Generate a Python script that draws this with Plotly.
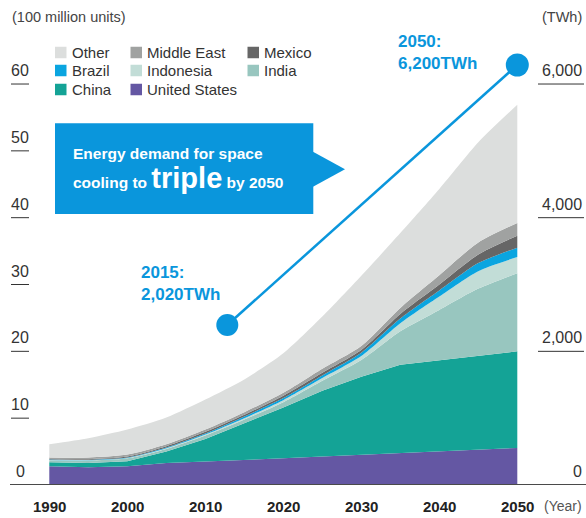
import plotly.graph_objects as go

# ---------------- data (100 million units) ----------------
years = [1990, 1995, 2000, 2005, 2010, 2015, 2020, 2025, 2030, 2035, 2040, 2045, 2050]
united_states = [2.8, 2.65, 2.8, 3.3, 3.5, 3.7, 4.0, 4.25, 4.5, 4.8, 5.05, 5.3, 5.55]
china = [0.6, 0.65, 0.75, 1.7, 3.4, 5.5, 7.6, 9.85, 11.7, 13.2, 13.65, 14.0, 14.45]
india = [0.3, 0.35, 0.45, 0.4, 0.5, 0.6, 0.8, 1.5, 2.5, 5.0, 7.5, 10.1, 11.7]
indonesia = [0.05, 0.05, 0.05, 0.1, 0.15, 0.2, 0.3, 0.4, 0.6, 1.2, 2.0, 2.6, 2.4]
brazil = [0.05, 0.05, 0.05, 0.1, 0.15, 0.25, 0.3, 0.4, 0.5, 0.7, 0.9, 1.2, 1.4]
mexico = [0.1, 0.1, 0.15, 0.2, 0.25, 0.25, 0.35, 0.4, 0.4, 0.7, 0.9, 1.3, 1.8]
middle_east = [0.2, 0.25, 0.3, 0.3, 0.35, 0.4, 0.45, 0.6, 0.6, 0.9, 1.4, 1.8, 1.9]
other = [2.0, 2.9, 3.75, 4.0, 4.5, 4.9, 5.9, 7.8, 10.5, 11.2, 12.9, 15.0, 17.7]

x_ticks = [1990, 2000, 2010, 2020, 2030, 2040, 2050]
left_ticks = [0, 10, 20, 30, 40, 50, 60]
right_ticks = [0, 2000, 4000, 6000]          # TWh
TWH_PER_UNIT = 100                           # 6,000 TWh aligns with 60

series = [
    ("United States", united_states, "#6457a3", "linear"),
    ("China", china, "#14a396", "linear"),
    ("India", india, "#98c6bf", "spline"),
    ("Indonesia", indonesia, "#c2ddd7", "spline"),
    ("Brazil", brazil, "#0aa5e0", "spline"),
    ("Mexico", mexico, "#666666", "spline"),
    ("Middle East", middle_east, "#a0a2a1", "spline"),
    ("Other", other, "#dcdedd", "spline"),
]
legend_layout = [  # (name, column, row)
    ("Other", 0, 0), ("Middle East", 1, 0), ("Mexico", 2, 0),
    ("Brazil", 0, 1), ("Indonesia", 1, 1), ("India", 2, 1),
    ("China", 0, 2), ("United States", 1, 2),
]
colors = {s[0]: s[2] for s in series}

# ---------------- geometry ----------------
W, H = 586, 518
PL, PT, PW, PH = 10, 0, 576, 485
PX_PER_YEAR = 7.8
PX_PER_UNIT = 6.683
x0_year = 1990 - (49.3 - PL) / PX_PER_YEAR
x1_year = x0_year + PW / PX_PER_YEAR
y_top = PH / PX_PER_UNIT


def px(xp):
    return (xp - PL) / PW


def py(yp):
    return (PT + PH - yp) / PH


BLUE = "#0a96dc"
FONT = "Liberation Sans, Arial, sans-serif"
BOLD = "Liberation Sans, Arial, sans-serif"

fig = go.Figure()
for name, vals, col, shape in series:
    fig.add_trace(go.Scatter(
        x=years, y=vals, name=name, stackgroup="one", mode="lines",
        line=dict(width=0, color=col, shape=shape, smoothing=0.7),
        fillcolor=col, showlegend=False, hoverinfo="skip"))

shapes = []
ann = []

# axis baseline
shapes.append(dict(type="line", xref="paper", yref="y", x0=0, x1=1, y0=0, y1=0,
                   line=dict(color="#4a4a4a", width=2)))

# left ticks
for v in left_ticks:
    ann.append(dict(xref="paper", yref="y", x=px(20), y=v, text=str(v),
                    showarrow=False, xanchor="center", yanchor="bottom", yshift=3,
                    font=dict(family=FONT, size=16, color="#333")))
    if v != 0:
        shapes.append(dict(type="line", xref="paper", yref="y", x0=px(11), x1=px(29),
                           y0=v, y1=v, line=dict(color="#333", width=1)))
# right ticks
for t in right_ticks:
    v = t / TWH_PER_UNIT
    ann.append(dict(xref="paper", yref="y", x=px(584), y=v, text=f"{t:,}",
                    showarrow=False, xanchor="right", yanchor="bottom", yshift=3,
                    font=dict(family=FONT, size=16, color="#333")))
    if t != 0:
        shapes.append(dict(type="line", xref="paper", yref="y", x0=px(538), x1=px(584),
                           y0=v, y1=v, line=dict(color="#333", width=1)))

# x labels
for yr in x_ticks:
    ann.append(dict(xref="x", yref="paper", x=yr, y=py(506), text=f"<b>{yr}</b>",
                    showarrow=False, xanchor="center", yanchor="middle",
                    font=dict(family=BOLD, size=15, color="#222")))
ann.append(dict(xref="paper", yref="paper", x=px(563), y=py(506), text="(Year)",
                showarrow=False, xanchor="center", yanchor="middle",
                font=dict(family=FONT, size=14, color="#555")))

# unit titles
ann.append(dict(xref="paper", yref="paper", x=px(10), y=py(17), text="(100 million units)",
                showarrow=False, xanchor="left", yanchor="middle",
                font=dict(family=FONT, size=14.5, color="#444")))
ann.append(dict(xref="paper", yref="paper", x=px(584), y=py(17), text="(TWh)",
                showarrow=False, xanchor="right", yanchor="middle",
                font=dict(family=FONT, size=14.5, color="#444")))

# legend
col_sw = [55, 130.5, 247.5]
row_c = [52.5, 70.5, 89.5]
for name, c, r in legend_layout:
    xs, yc = col_sw[c], row_c[r]
    shapes.append(dict(type="rect", xref="paper", yref="paper",
                       x0=px(xs), x1=px(xs + 11.5), y0=py(yc + 5.75), y1=py(yc - 5.75),
                       fillcolor=colors[name], line=dict(width=0)))
    ann.append(dict(xref="paper", yref="paper", x=px(xs + 14.5), y=py(yc), text=name,
                    showarrow=False, xanchor="left", yanchor="middle",
                    font=dict(family=FONT, size=15, color="#333")))

# callout box
shapes.append(dict(type="rect", xref="paper", yref="paper",
                   x0=px(55), x1=px(313.3), y0=py(214), y1=py(123.3),
                   fillcolor=BLUE, line=dict(width=0)))
shapes.append(dict(type="path", xref="paper", yref="paper",
                   path=f"M {px(313)} {py(151.7)} L {px(345)} {py(169.3)} L {px(313)} {py(186.7)} Z",
                   fillcolor=BLUE, line=dict(width=0)))
ann.append(dict(xref="paper", yref="paper", x=px(70.5), y=py(153),
                text="<b>Energy demand for space</b>", showarrow=False,
                xanchor="left", yanchor="middle",
                font=dict(family=BOLD, size=15.5, color="white")))
ann.append(dict(xref="paper", yref="paper", x=px(70.5), y=py(178),
                text="<b>cooling to <span style='font-size:29px'>triple</span> by 2050</b>",
                showarrow=False, xanchor="left", yanchor="middle",
                font=dict(family=BOLD, size=15.5, color="white")))

# connector line and dots (decorative)
shapes.append(dict(type="line", xref="paper", yref="paper",
                   x0=px(227.3), y0=py(325), x1=px(517.3), y1=py(65),
                   line=dict(color=BLUE, width=2.5)))
for cx, cy, r in [(227.3, 325, 11), (517.3, 65, 11.5)]:
    shapes.append(dict(type="circle", xref="paper", yref="paper",
                       x0=px(cx - r), x1=px(cx + r), y0=py(cy + r), y1=py(cy - r),
                       fillcolor=BLUE, line=dict(width=0)))

ann.append(dict(xref="paper", yref="paper", x=px(138.5), y=py(284),
                text="<b>2015:<br>2,020TWh</b>", showarrow=False, align="left",
                xanchor="left", yanchor="middle",
                font=dict(family=BOLD, size=17, color=BLUE)))
ann.append(dict(xref="paper", yref="paper", x=px(395.5), y=py(53),
                text="<b>2050:<br>6,200TWh</b>", showarrow=False, align="left",
                xanchor="left", yanchor="middle",
                font=dict(family=BOLD, size=17, color=BLUE)))

fig.update_layout(
    width=W, height=H,
    margin=dict(l=PL, r=W - PL - PW, t=PT, b=H - PT - PH, autoexpand=False),
    paper_bgcolor="white", plot_bgcolor="white",
    xaxis=dict(range=[x0_year, x1_year], visible=False, fixedrange=True),
    yaxis=dict(range=[0, y_top], visible=False, fixedrange=True),
    shapes=shapes, annotations=ann, showlegend=False,
)

fig.write_html("out.html", config={"displayModeBar": False},
               post_script="document.body.style.margin='0';document.body.style.overflow='hidden';")
